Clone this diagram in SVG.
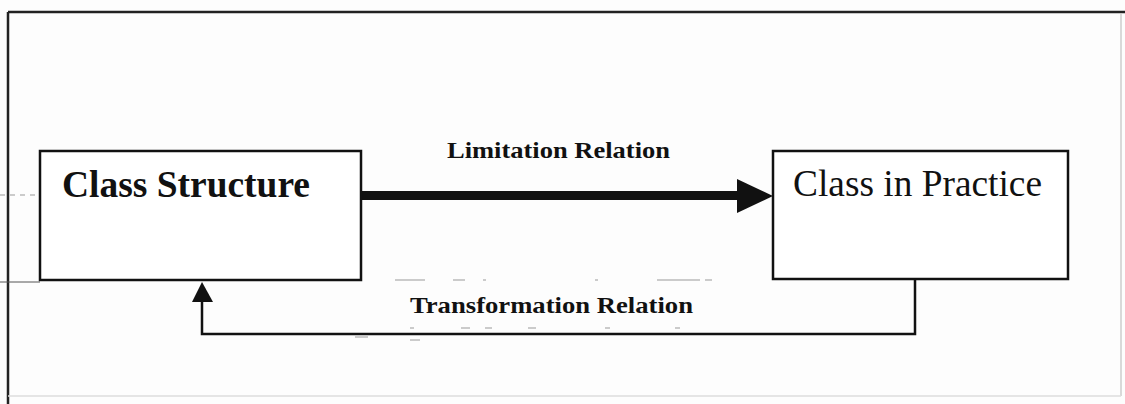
<svg xmlns="http://www.w3.org/2000/svg" width="1125" height="404" viewBox="0 0 1125 404">
<style>
.box{fill:#fff;stroke:#111;stroke-width:2.5}
.bold{font-family:"Liberation Serif","Times New Roman",serif;font-weight:bold;fill:#111}
.reg{font-family:"Liberation Serif","Times New Roman",serif;fill:#111}
.conn{fill:none;stroke:#111}
.faint{stroke:#bbb;stroke-width:1.5;fill:none}
</style>
<rect width="1125" height="404" fill="#fdfdfd"/>
<g id="frame">
<line x1="8" y1="12" x2="1125" y2="12" stroke="#222" stroke-width="2.5"/>
<line x1="8" y1="12" x2="8" y2="404" stroke="#222" stroke-width="2.5"/>
<line x1="1121" y1="14" x2="1121" y2="396" stroke="#ccc" stroke-width="1.5"/>
<line x1="8" y1="396" x2="1121" y2="396" stroke="#ddd" stroke-width="1.5"/>
<line x1="0" y1="195" x2="36" y2="195" stroke="#999" stroke-width="1" stroke-dasharray="5,5"/>
<line x1="0" y1="282" x2="40" y2="282" stroke="#555" stroke-width="1"/>
<path class="faint" d="M395 280H425M453 280H465M483 280H486M595 280H598M657 280H700M705 280H712"/>
<path class="faint" d="M410 328H414M461 328H470M485 328H492M528 328H536M605 328H610M675 328H680M355 337H368M410 340H420"/>
</g>
<g id="connectors">
<line class="conn" x1="362" y1="195.5" x2="740" y2="195.5" stroke-width="9"/>
<polygon points="737,179 773,196 737,213" fill="#111"/>
<polyline class="conn" points="915,279 915,334 202,334 202,298" stroke-width="2.5"/>
<polygon points="192,302 202,282 213,302" fill="#111"/>
<text class="bold" x="447" y="158" font-size="23" textLength="223" lengthAdjust="spacingAndGlyphs">Limitation Relation</text>
<text class="bold" x="410" y="313" font-size="24" textLength="283" lengthAdjust="spacingAndGlyphs">Transformation Relation</text>
</g>
<g id="class-structure">
<rect class="box" x="40" y="151" width="321" height="129"/>
<text class="bold" x="62" y="197" font-size="37" textLength="248" lengthAdjust="spacingAndGlyphs">Class Structure</text>
</g>
<g id="class-in-practice">
<rect class="box" x="773" y="151" width="295" height="128"/>
<text class="reg" x="793" y="196" font-size="37" textLength="249" lengthAdjust="spacingAndGlyphs">Class in Practice</text>
</g>
</svg>
